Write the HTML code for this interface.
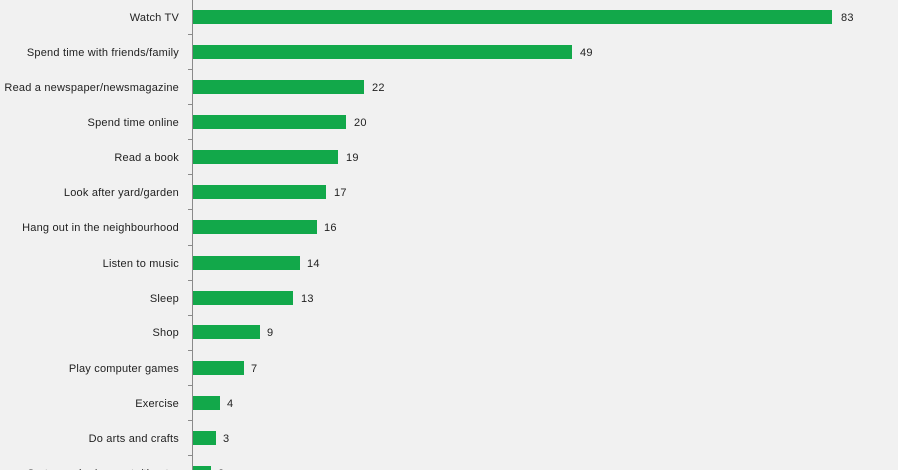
<!DOCTYPE html>
<html><head><style>
html,body{margin:0;padding:0;background:#f1f1f1;}
svg{display:block;font-family:"Liberation Sans","DejaVu Sans",sans-serif;}
</style></head><body>
<svg width="898" height="470" viewBox="0 0 898 470" xmlns="http://www.w3.org/2000/svg">
<rect width="898" height="470" fill="#f1f1f1"/>
<line x1="192.5" y1="0" x2="192.5" y2="470" stroke="#8a8a8a" stroke-width="1"/>
<g fill="#12a84a">
<rect x="193" y="10" width="639" height="14"/>
<rect x="193" y="45" width="379" height="14"/>
<rect x="193" y="80" width="171" height="14"/>
<rect x="193" y="115" width="153" height="14"/>
<rect x="193" y="150" width="145" height="14"/>
<rect x="193" y="185" width="133" height="14"/>
<rect x="193" y="220" width="124" height="14"/>
<rect x="193" y="256" width="107" height="14"/>
<rect x="193" y="291" width="100" height="14"/>
<rect x="193" y="325" width="67" height="14"/>
<rect x="193" y="361" width="51" height="14"/>
<rect x="193" y="396" width="27" height="14"/>
<rect x="193" y="431" width="23" height="14"/>
<rect x="193" y="466" width="18" height="14"/>
</g>
<g stroke="#8a8a8a" stroke-width="1">
<line x1="188" y1="34.5" x2="192" y2="34.5"/><line x1="188" y1="69.5" x2="192" y2="69.5"/>
<line x1="188" y1="104.5" x2="192" y2="104.5"/><line x1="188" y1="139.5" x2="192" y2="139.5"/>
<line x1="188" y1="174.5" x2="192" y2="174.5"/><line x1="188" y1="209.5" x2="192" y2="209.5"/>
<line x1="188" y1="245.5" x2="192" y2="245.5"/><line x1="188" y1="280.5" x2="192" y2="280.5"/>
<line x1="188" y1="315.5" x2="192" y2="315.5"/><line x1="188" y1="350.5" x2="192" y2="350.5"/>
<line x1="188" y1="385.5" x2="192" y2="385.5"/><line x1="188" y1="420.5" x2="192" y2="420.5"/>
<line x1="188" y1="455.5" x2="192" y2="455.5"/>
</g>
<g font-size="11" fill="#222" text-anchor="end" letter-spacing="0.2">
<text x="179" y="21">Watch TV</text>
<text x="179" y="56">Spend time with friends/family</text>
<text x="179" y="91">Read a newspaper/newsmagazine</text>
<text x="179" y="126">Spend time online</text>
<text x="179" y="161">Read a book</text>
<text x="179" y="196">Look after yard/garden</text>
<text x="179" y="231">Hang out in the neighbourhood</text>
<text x="179" y="267">Listen to music</text>
<text x="179" y="302">Sleep</text>
<text x="179" y="336">Shop</text>
<text x="179" y="372">Play computer games</text>
<text x="179" y="407">Exercise</text>
<text x="179" y="442">Do arts and crafts</text>
<text x="179" y="477">Go to movies/concerts/theatre</text>
</g>
<g font-size="11" fill="#222" letter-spacing="0.2">
<text x="841" y="21">83</text>
<text x="580" y="56">49</text>
<text x="372" y="91">22</text>
<text x="354" y="126">20</text>
<text x="346" y="161">19</text>
<text x="334" y="196">17</text>
<text x="324" y="231">16</text>
<text x="307" y="267">14</text>
<text x="301" y="302">13</text>
<text x="267" y="336">9</text>
<text x="251" y="372">7</text>
<text x="227" y="407">4</text>
<text x="223" y="442">3</text>
<text x="218" y="477">2</text>
</g>
</svg>
</body></html>
